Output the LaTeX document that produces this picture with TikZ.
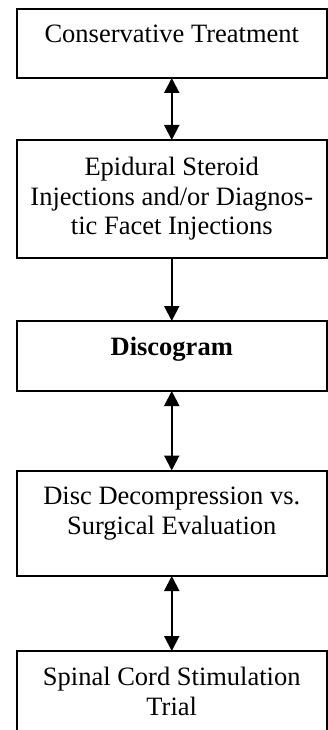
\documentclass[tikz,border=0pt]{standalone}
\usepackage{fontspec}
\setmainfont{Liberation Serif}
\usetikzlibrary{arrows.meta}
\begin{document}
\begin{tikzpicture}[x=1pt,y=1pt,
  box/.style={draw, line width=2pt, minimum width=309.5pt, outer sep=0pt, inner sep=0pt, anchor=north west},
  lbl/.style={anchor=north, inner sep=0pt, align=center, font=\fontsize{26.5}{29.5}\selectfont},
  dbl/.style={line width=2pt, {Triangle[length=15pt,width=15pt]}-{Triangle[length=15pt,width=15pt]}},
  sgl/.style={line width=2pt, -{Triangle[length=15pt,width=15pt]}}]
\useasboundingbox (0,0) rectangle (328,-730);
\clip (0,0) rectangle (328,-730);
\node[box, minimum height=69pt] (b1) at (17,-9) {};
\node[box, minimum height=118pt] (b2) at (17,-140) {};
\node[box, minimum height=70pt] (b3) at (17,-321) {};
\node[box, minimum height=105.5pt] (b4) at (17,-470.5) {};
\node[box, minimum height=120pt] (b5) at (17,-651) {};
\node[lbl] (t1) at ([yshift=-16pt]b1.north) {Conservative Treatment};
\node[lbl] (t2) at ([yshift=-17pt]b2.north) {Epidural Steroid\\Injections and/or Diagnos-\\tic Facet Injections};
\node[lbl, font=\fontsize{26.5}{29.5}\selectfont\bfseries] (t3) at ([yshift=-16pt]b3.north) {Discogram};
\node[lbl] (t4) at ([yshift=-16.5pt]b4.north) {Disc Decompression vs.\\Surgical Evaluation};
\node[lbl] (t5) at ([yshift=-16pt]b5.north) {Spinal Cord Stimulation\\Trial};
\draw[dbl] (b1.south) -- (b2.north);
\draw[sgl] (b2.south) -- (b3.north);
\draw[dbl] (b3.south) -- (b4.north);
\draw[dbl] (b4.south) -- (b5.north);
\end{tikzpicture}
\end{document}
